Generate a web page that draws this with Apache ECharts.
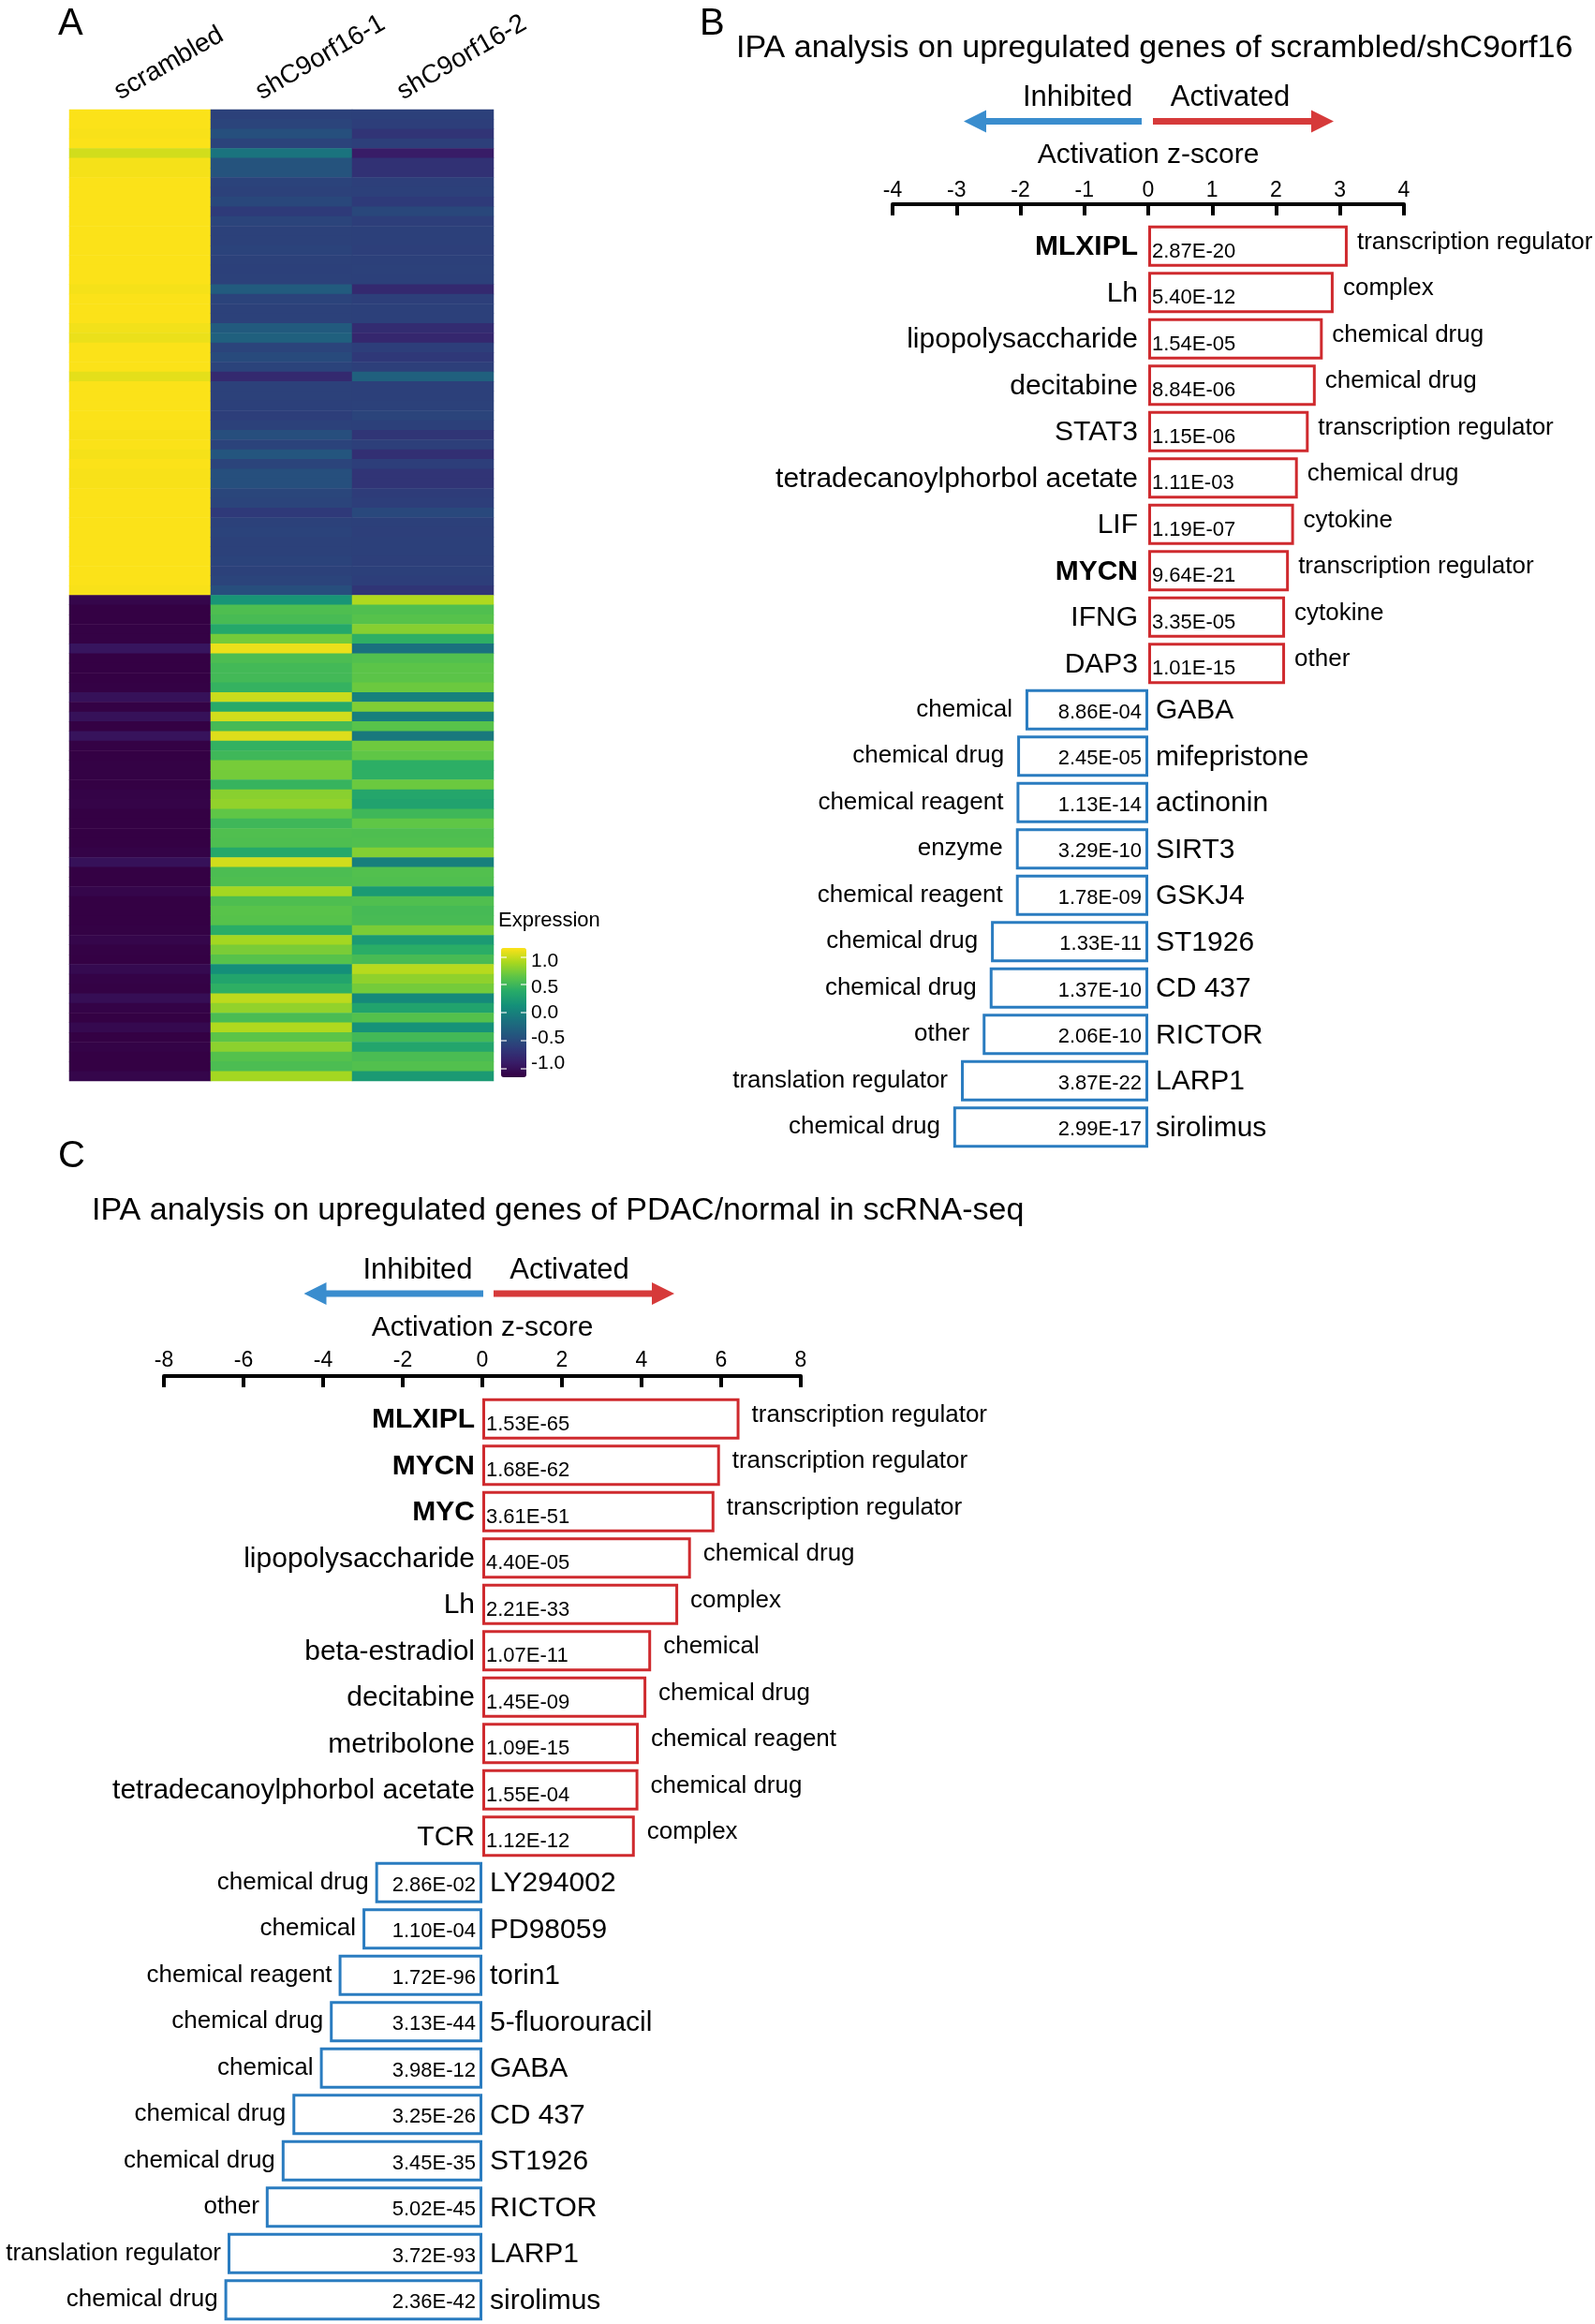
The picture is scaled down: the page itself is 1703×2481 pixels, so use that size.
<!DOCTYPE html>
<html><head><meta charset="utf-8">
<script src="https://cdn.jsdelivr.net/npm/echarts@6/dist/echarts.min.js"></script>
<style>html,body{margin:0;padding:0;background:#fff}#c{width:1703px;height:2481px}</style>
</head><body><div id="c"></div>
<script>
// ---------- Panel A: heatmap ----------
const samples = ['scrambled', 'shC9orf16-1', 'shC9orf16-2'];
const scrambled = [
 1.15,1.15,1.14,1.15,1.02,1.13,1.13,1.15,1.15,1.15, 1.15,1.15,1.15,1.15,1.15,1.15,1.15,1.15,1.13,1.15,
 1.15,1.15,1.12,1.10,1.15,1.15,1.15,1.08,1.15,1.15, 1.15,1.15,1.15,1.14,1.15,1.13,1.15,1.14,1.14,1.15,
 1.15,1.15,1.15,1.15,1.15,1.15,1.15,1.15,1.15,1.14,
 -1.10,-1.15,-1.15,-1.14,-1.14,-0.96,-1.15,-1.15,-1.15,-1.14, -1.00,-1.14,-1.00,-1.15,-0.98,-1.14,-1.15,-1.14,-1.14,-1.15,
 -1.13,-1.12,-1.15,-1.15,-1.15,-1.15,-1.13,-1.00,-1.15,-1.15, -1.10,-1.15,-1.15,-1.15,-1.14,-1.10,-1.14,-1.15,-1.06,-1.13,
 -1.14,-1.03,-1.13,-1.15,-1.07,-1.15,-1.13,-1.15,-1.15,-1.10];
const sh1 = [
 -0.57,-0.55,-0.45,-0.56,-0.12,-0.42,-0.42,-0.56,-0.57,-0.52, -0.63,-0.55,-0.57,-0.57,-0.56,-0.57,-0.58,-0.57,-0.35,-0.56,
 -0.57,-0.57,-0.36,-0.30,-0.55,-0.50,-0.56,-0.78,-0.57,-0.57, -0.58,-0.60,-0.57,-0.46,-0.56,-0.40,-0.55,-0.45,-0.45,-0.53,
 -0.55,-0.64,-0.57,-0.56,-0.57,-0.57,-0.56,-0.57,-0.55,-0.46,
 0.18,0.57,0.54,0.36,0.72,1.10,0.56,0.52,0.52,0.45, 1.00,0.38,1.02,0.53,1.06,0.44,0.50,0.73,0.72,0.46,
 0.79,0.82,0.65,0.50,0.58,0.57,0.36,1.02,0.56,0.57, 0.88,0.57,0.62,0.61,0.40,0.88,0.74,0.61,0.12,0.32,
 0.42,0.96,0.82,0.55,0.92,0.63,0.80,0.60,0.56,0.88];
const sh2 = [
 -0.58,-0.60,-0.69,-0.59,-0.90,-0.71,-0.71,-0.59,-0.58,-0.63, -0.52,-0.60,-0.58,-0.58,-0.59,-0.58,-0.57,-0.58,-0.78,-0.59,
 -0.58,-0.58,-0.76,-0.80,-0.60,-0.65,-0.59,-0.30,-0.58,-0.58, -0.57,-0.55,-0.58,-0.68,-0.59,-0.73,-0.60,-0.69,-0.69,-0.62,
 -0.60,-0.51,-0.58,-0.59,-0.58,-0.58,-0.59,-0.58,-0.60,-0.68,
 0.92,0.58,0.61,0.78,0.42,-0.14,0.59,0.63,0.63,0.69, 0.00,0.76,-0.02,0.62,-0.08,0.70,0.65,0.41,0.42,0.69,
 0.34,0.30,0.50,0.65,0.57,0.58,0.77,-0.02,0.59,0.58, 0.22,0.58,0.53,0.54,0.74,0.22,0.40,0.54,0.94,0.81,
 0.72,0.07,0.31,0.60,0.15,0.52,0.33,0.55,0.59,0.22];
const legendTicks = [-1, -0.5, 0, 0.5, 1];

// ---------- Panel B ----------
const bGenes = ['MLXIPL','Lh','lipopolysaccharide','decitabine','STAT3','tetradecanoylphorbol acetate','LIF','MYCN','IFNG','DAP3',
 'GABA','mifepristone','actinonin','SIRT3','GSKJ4','ST1926','CD 437','RICTOR','LARP1','sirolimus'];
const bZ = [3.12,2.90,2.73,2.62,2.51,2.34,2.28,2.20,2.14,2.14,
 -1.92,-2.05,-2.06,-2.07,-2.07,-2.46,-2.48,-2.59,-2.93,-3.05];
const bP = ['2.87E-20','5.40E-12','1.54E-05','8.84E-06','1.15E-06','1.11E-03','1.19E-07','9.64E-21','3.35E-05','1.01E-15',
 '8.86E-04','2.45E-05','1.13E-14','3.29E-10','1.78E-09','1.33E-11','1.37E-10','2.06E-10','3.87E-22','2.99E-17'];
const bType = ['transcription regulator','complex','chemical drug','chemical drug','transcription regulator','chemical drug','cytokine','transcription regulator','cytokine','other',
 'chemical','chemical drug','chemical reagent','enzyme','chemical reagent','chemical drug','chemical drug','other','translation regulator','chemical drug'];
const bTicks = [-4, 4, 1];

// ---------- Panel C ----------
const cGenes = ['MLXIPL','MYCN','MYC','lipopolysaccharide','Lh','beta-estradiol','decitabine','metribolone','tetradecanoylphorbol acetate','TCR',
 'LY294002','PD98059','torin1','5-fluorouracil','GABA','CD 437','ST1926','RICTOR','LARP1','sirolimus'];
const cZ = [6.46,5.97,5.83,5.24,4.92,4.24,4.12,3.93,3.92,3.83,
 -2.69,-3.01,-3.61,-3.83,-4.08,-4.77,-5.04,-5.44,-6.40,-6.48];
const cP = ['1.53E-65','1.68E-62','3.61E-51','4.40E-05','2.21E-33','1.07E-11','1.45E-09','1.09E-15','1.55E-04','1.12E-12',
 '2.86E-02','1.10E-04','1.72E-96','3.13E-44','3.98E-12','3.25E-26','3.45E-35','5.02E-45','3.72E-93','2.36E-42'];
const cType = ['transcription regulator','transcription regulator','transcription regulator','chemical drug','complex','chemical','chemical drug','chemical reagent','chemical drug','complex',
 'chemical drug','chemical','chemical reagent','chemical drug','chemical','chemical drug','chemical drug','other','translation regulator','chemical drug'];
const cTicks = [-8, 8, 2];
const boldGenes = ['MLXIPL','MYCN','MYC'];

const RED = '#cf2a2e', BLUE = '#2a7cc0', ARED = '#d63a3a', ABLUE = '#3a8dce';
const FONT = '"Liberation Sans", Arial, Helvetica, sans-serif';
const viridisBase = ['#440154','#482878','#3e4989','#31688e','#26828e','#1f9e89','#35b779','#6ece58','#b5de2b','#fde725'];
// slightly darker rendering of viridis, as printed in the figure
const palette = viridisBase.map(h => {
  const c = [1, 3, 5].map(i => parseInt(h.substr(i, 2), 16));
  return 'rgb(' + c.map(v => Math.round(255 * Math.pow(v / 255, 1.2))).join(',') + ')';
});

const rowIds = scrambled.map((_, i) => 'g' + (i + 1));
const heatVals = [scrambled, sh1, sh2];
const heatData = [];
heatVals.forEach((col, xi) => col.forEach((v, yi) => heatData.push([xi, yi, v])));

function panelSeries(gi, genes, z, pv, types, o) {
  const isBold = g => boldGenes.indexOf(g) >= 0;
  const main = {
    type: 'bar', xAxisIndex: gi, yAxisIndex: gi, barWidth: 44, barGap: '-100%', silent: true,
    label: { show: true, formatter: p => pv[p.dataIndex], fontSize: 22, color: '#000', fontFamily: FONT },
    data: z.map(v => ({
      value: v,
      itemStyle: { color: '#fff', borderColor: v > 0 ? RED : BLUE, borderWidth: 3 },
      label: v > 0 ? { position: 'insideLeft', distance: 4, offset: [0, 6] }
                   : { position: 'insideRight', distance: 7, offset: [0, 3] }
    }))
  };
  const right = {
    type: 'bar', xAxisIndex: gi, yAxisIndex: gi, barWidth: 44, barGap: '-100%', silent: true,
    itemStyle: { color: 'rgba(0,0,0,0)' },
    label: { show: true, position: 'right', color: '#000', fontFamily: FONT,
      formatter: p => z[p.dataIndex] > 0 ? types[p.dataIndex] : genes[p.dataIndex] },
    data: z.map((v, i) => ({
      value: v,
      label: v > 0 ? { fontSize: 26, distance: o.catR, offset: [0, -4] }
                   : { fontSize: 30, distance: o.geneR, offset: [0, 1], fontWeight: isBold(genes[i]) ? 'bold' : 'normal' }
    }))
  };
  const left = {
    type: 'bar', xAxisIndex: gi, yAxisIndex: gi, barWidth: 44, barGap: '-100%', silent: true,
    itemStyle: { color: 'rgba(0,0,0,0)' },
    label: { show: true, position: 'left', color: '#000', fontFamily: FONT,
      formatter: p => z[p.dataIndex] > 0 ? genes[p.dataIndex] : types[p.dataIndex] },
    data: z.map((v, i) => ({
      value: v,
      label: v > 0 ? { fontSize: 30, distance: o.geneL, offset: [0, 1], fontWeight: isBold(genes[i]) ? 'bold' : 'normal' }
                   : { fontSize: 26, distance: o.catL, offset: [0, 0] }
    }))
  };
  return [main, right, left];
}

function zAxis(gi, t, offset, margin, nameGap) {
  return {
    gridIndex: gi, type: 'value', min: t[0], max: t[1], interval: t[2], position: 'top', offset: offset,
    axisLine: { show: true, onZero: false, lineStyle: { color: '#000', width: 4 } },
    axisTick: { show: true, inside: true, length: 12, lineStyle: { color: '#000', width: 4 } },
    axisLabel: { fontSize: 23, color: '#000', margin: margin, fontFamily: FONT },
    splitLine: { show: false },
    name: 'Activation z-score', nameLocation: 'middle', nameGap: nameGap,
    nameTextStyle: { fontSize: 30, color: '#000', fontFamily: FONT }
  };
}

function arrow(x0, x1, y, color) {
  const d = x1 > x0 ? 1 : -1, hl = 24, hh = 12, sh = 3.5, b = x1 - d * hl;
  return { type: 'polygon', shape: { points: [[x0, y - sh], [b, y - sh], [b, y - hh], [x1, y], [b, y + hh], [b, y + sh], [x0, y + sh]] },
    style: { fill: color } };
}
function txt(x, y, s, size) {
  return { type: 'text', x: x, y: y, style: { text: s, fontSize: size, fill: '#000', font: size + 'px ' + FONT, align: 'center', verticalAlign: 'middle' } };
}

const baseGraphic = [
  txt(1150.6, 104, 'Inhibited', 31), txt(1313.6, 104, 'Activated', 31),
  arrow(1219, 1029, 129.5, ABLUE), arrow(1231, 1424, 129.5, ARED),
  txt(446, 1356, 'Inhibited', 31), txt(608, 1356, 'Activated', 31),
  arrow(516, 324.5, 1381, ABLUE), arrow(527, 720, 1381, ARED)
];

const chart = echarts.init(document.getElementById('c'), null, { renderer: 'canvas' });
chart.setOption({
  animation: false,
  backgroundColor: '#fff',
  textStyle: { fontFamily: FONT, color: '#000' },
  title: [
    { text: 'A', left: 57, top: 1, textStyle: { fontSize: 40, fontWeight: 'normal', color: '#000', fontFamily: FONT } },
    { text: 'B', left: 742, top: 1, textStyle: { fontSize: 40, fontWeight: 'normal', color: '#000', fontFamily: FONT } },
    { text: 'C', left: 57, top: 1210, textStyle: { fontSize: 40, fontWeight: 'normal', color: '#000', fontFamily: FONT } },
    { text: 'IPA analysis on upregulated genes of scrambled/shC9orf16', left: 786, top: 35, padding: 0,
      textStyle: { fontSize: 34, fontWeight: 'normal', color: '#000', fontFamily: FONT } },
    { text: 'IPA analysis on upregulated genes of PDAC/normal in scRNA-seq', left: 98, top: 1276, padding: 0,
      textStyle: { fontSize: 34, fontWeight: 'normal', color: '#000', fontFamily: FONT } },
    { text: 'Expression', left: 532, top: 972, padding: 0,
      textStyle: { fontSize: 22, fontWeight: 'normal', color: '#000', fontFamily: FONT } }
  ],
  grid: [
    { left: 74, top: 117, width: 453, height: 1037 },
    { left: 953, top: 238, width: 546, height: 990 },
    { left: 175, top: 1490, width: 680, height: 990 },
    { left: 535, top: 1012, width: 27, height: 138 }
  ],
  xAxis: [
    { gridIndex: 0, type: 'category', data: samples, position: 'top', show: false },
    zAxis(1, bTicks, 20, 3, 37),
    zAxis(2, cTicks, 21, 5, 36),
    { gridIndex: 3, type: 'value', show: false, min: 0, max: 1 }
  ],
  yAxis: [
    { gridIndex: 0, type: 'category', data: rowIds, inverse: true, show: false },
    { gridIndex: 1, type: 'category', data: bGenes, inverse: true, show: false },
    { gridIndex: 2, type: 'category', data: cGenes, inverse: true, show: false },
    { gridIndex: 3, type: 'value', min: -1.155, max: 1.155, position: 'left', z: 10,
      axisLine: { show: false }, splitLine: { show: false }, axisLabel: { show: false },
      axisTick: { show: true, inside: true, length: 27, customValues: legendTicks,
        lineStyle: { color: 'rgba(255,255,255,0.75)', width: 1.5, type: [6, 15] } } },
    { gridIndex: 3, type: 'value', min: -1.27, max: 1.27, position: 'right', z: 10,
      axisLine: { show: false }, splitLine: { show: false }, axisTick: { show: false },
      axisLabel: { customValues: legendTicks, formatter: v => Number(v).toFixed(1), fontSize: 21, color: '#000', margin: 5, fontFamily: FONT } }
  ],
  visualMap: {
    type: 'continuous', seriesIndex: 0, dimension: 2, min: -1.155, max: 1.155,
    inRange: { color: palette }, calculable: false, hoverLink: false,
    left: 535, top: 1012, itemWidth: 27, itemHeight: 138, padding: 0, text: null, showLabel: false
  },
  graphic: baseGraphic,
  series: [
    { type: 'heatmap', xAxisIndex: 0, yAxisIndex: 0, data: heatData, silent: true, itemStyle: { borderWidth: 0 } }
  ].concat(
    panelSeries(1, bGenes, bZ, bP, bType, { catR: 10, geneR: 8, geneL: 11, catL: 14 }),
    panelSeries(2, cGenes, cZ, cP, cType, { catR: 13, geneR: 8, geneL: 8, catL: 7 })
  )
});

// rotated column labels for the heatmap, anchored at each column's axis position
const colLabels = samples.map((s, i) => {
  const cx = chart.convertToPixel({ xAxisIndex: 0 }, s);
  return { type: 'text', x: cx - 25, y: 100, rotation: 30 * Math.PI / 180,
    style: { text: s, font: '28px ' + FONT, fill: '#000', align: 'left', verticalAlign: 'middle' } };
});
chart.setOption({ graphic: baseGraphic.concat(colLabels) });
</script></body></html>
